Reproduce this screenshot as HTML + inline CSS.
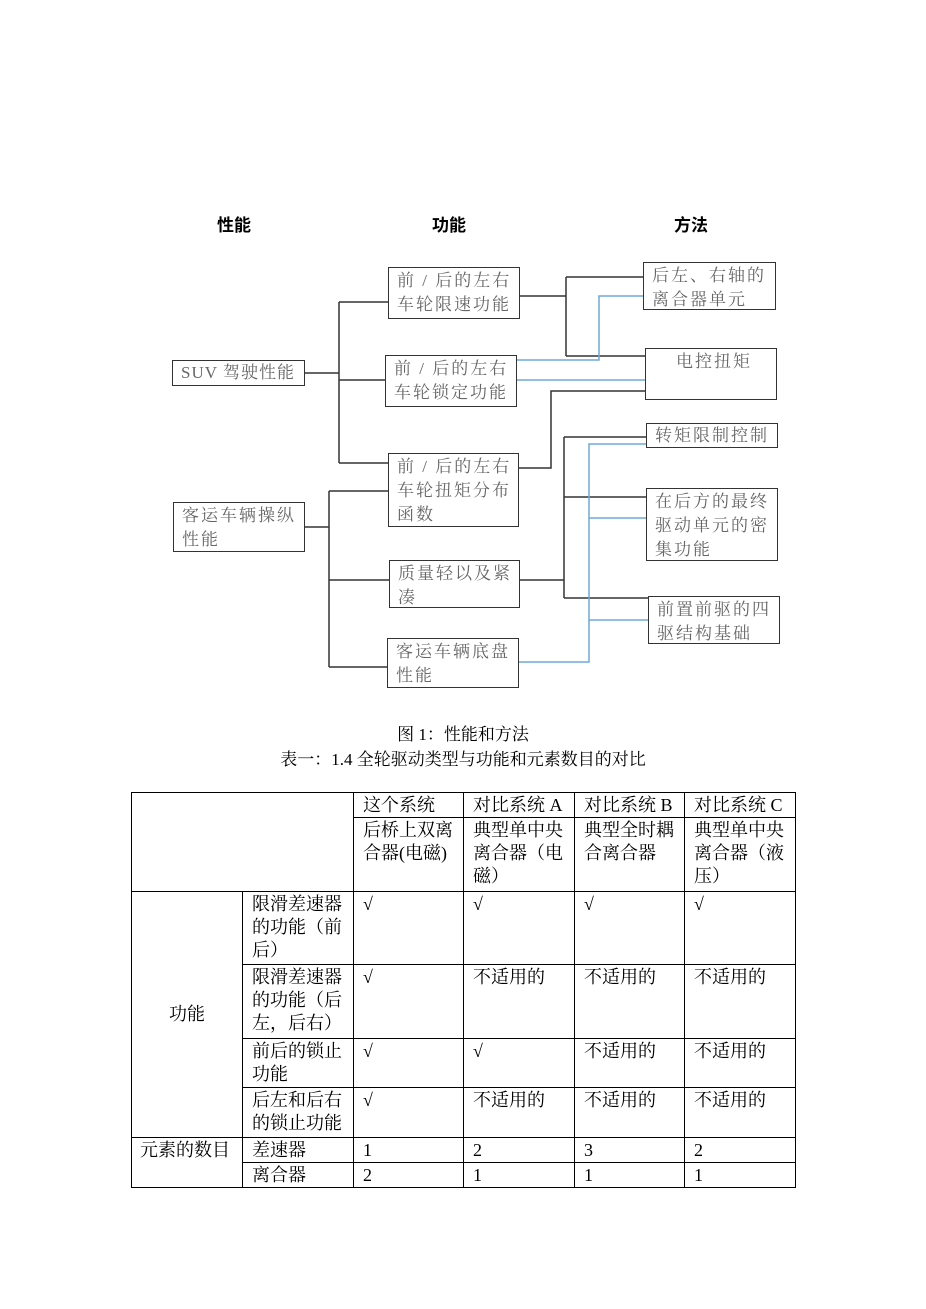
<!DOCTYPE html>
<html><head><meta charset="utf-8"><style>
body{margin:0;width:926px;height:1309px;background:#fff;position:relative;font-family:"Liberation Serif","Noto Serif CJK SC",serif;}
.b{position:absolute;border:1.5px solid #333;box-sizing:border-box;color:#666;font-size:17px;line-height:24px;padding:1px 0 0 8px;letter-spacing:2px;white-space:nowrap;}
.h{position:absolute;font-family:"Liberation Sans","Noto Sans CJK SC",sans-serif;font-weight:bold;font-size:17px;top:211px;}
.c{position:absolute;left:0;width:926px;text-align:center;font-size:17px;}
table{position:absolute;left:131px;top:792px;border-collapse:collapse;table-layout:fixed;font-size:18px;line-height:23px;}
td{border:1px solid #000;vertical-align:top;padding:1px 4px 0 9px;overflow:hidden;}
</style></head><body>
<div class="h" style="left:217px">性能</div>
<div class="h" style="left:432px">功能</div>
<div class="h" style="left:674px">方法</div>
<svg width="926" height="720" style="position:absolute;left:0;top:0" fill="none" stroke-width="1.5">
<g stroke="#333">
<path d="M305 373H339M339 302V463M339 302H388M339 380H385M339 463H388"/>
<path d="M305 527H329M329 491V667M329 491H388M329 580H389M329 667H387"/>
<path d="M520 296H566M566 277V356M566 277H643M566 356H645"/>
<path d="M519 468H551V391H645"/>
<path d="M520 580H564M564 437V598M564 437H646M564 497H646M564 598H648"/>
</g>
<g stroke="#6fa8dc">
<path d="M517 360H599V296H643M517 380H645"/>
<path d="M519 662H589V444H646M589 518H646M589 620H648"/>
</g>
</svg>
<div class="b" style="left:172px;top:360px;width:133px;height:26px;line-height:22px;letter-spacing:1px">SUV 驾驶性能</div>
<div class="b" style="left:173px;top:502px;width:132px;height:50px">客运车辆操纵<br>性能</div>
<div class="b" style="left:388px;top:267px;width:132px;height:52px">前 / 后的左右<br>车轮限速功能</div>
<div class="b" style="left:385px;top:355px;width:132px;height:52px">前 / 后的左右<br>车轮锁定功能</div>
<div class="b" style="left:388px;top:453px;width:131px;height:74px">前 / 后的左右<br>车轮扭矩分布<br>函数</div>
<div class="b" style="left:389px;top:560px;width:131px;height:48px">质量轻以及紧<br>凑</div>
<div class="b" style="left:387px;top:638px;width:132px;height:50px">客运车辆底盘<br>性能</div>
<div class="b" style="left:643px;top:262px;width:133px;height:48px">后左、右轴的<br>离合器单元</div>
<div class="b" style="left:645px;top:348px;width:132px;height:52px;padding-left:30px">电控扭矩</div>
<div class="b" style="left:646px;top:423px;width:132px;height:25px;line-height:22px">转矩限制控制</div>
<div class="b" style="left:646px;top:488px;width:132px;height:73px">在后方的最终<br>驱动单元的密<br>集功能</div>
<div class="b" style="left:648px;top:596px;width:132px;height:48px">前置前驱的四<br>驱结构基础</div>
<div class="c" style="top:720px">图 1：性能和方法</div>
<div class="c" style="top:745px">表一：1.4 全轮驱动类型与功能和元素数目的对比</div>
<table>
<colgroup><col style="width:111px"><col style="width:111px"><col style="width:110px"><col style="width:111px"><col style="width:110px"><col style="width:111px"></colgroup>
<tr style="height:25px"><td colspan="2" rowspan="2"></td><td>这个系统</td><td>对比系统 A</td><td>对比系统 B</td><td>对比系统 C</td></tr>
<tr style="height:74px"><td>后桥上双离合器(电磁)</td><td>典型单中央离合器（电磁）</td><td>典型全时耦合离合器</td><td>典型单中央离合器（液压）</td></tr>
<tr style="height:73px"><td rowspan="4" style="vertical-align:middle;text-align:center;padding:0">功能</td><td>限滑差速器的功能（前后）</td><td>√</td><td>√</td><td>√</td><td>√</td></tr>
<tr style="height:74px"><td>限滑差速器的功能（后左，后右）</td><td>√</td><td>不适用的</td><td>不适用的</td><td>不适用的</td></tr>
<tr style="height:49px"><td>前后的锁止功能</td><td>√</td><td>√</td><td>不适用的</td><td>不适用的</td></tr>
<tr style="height:50px"><td>后左和后右的锁止功能</td><td>√</td><td>不适用的</td><td>不适用的</td><td>不适用的</td></tr>
<tr style="height:25px"><td rowspan="2" style="padding-left:8px;padding-right:0">元素的数目</td><td>差速器</td><td>1</td><td>2</td><td>3</td><td>2</td></tr>
<tr style="height:25px"><td>离合器</td><td>2</td><td>1</td><td>1</td><td>1</td></tr>
</table>
</body></html>
